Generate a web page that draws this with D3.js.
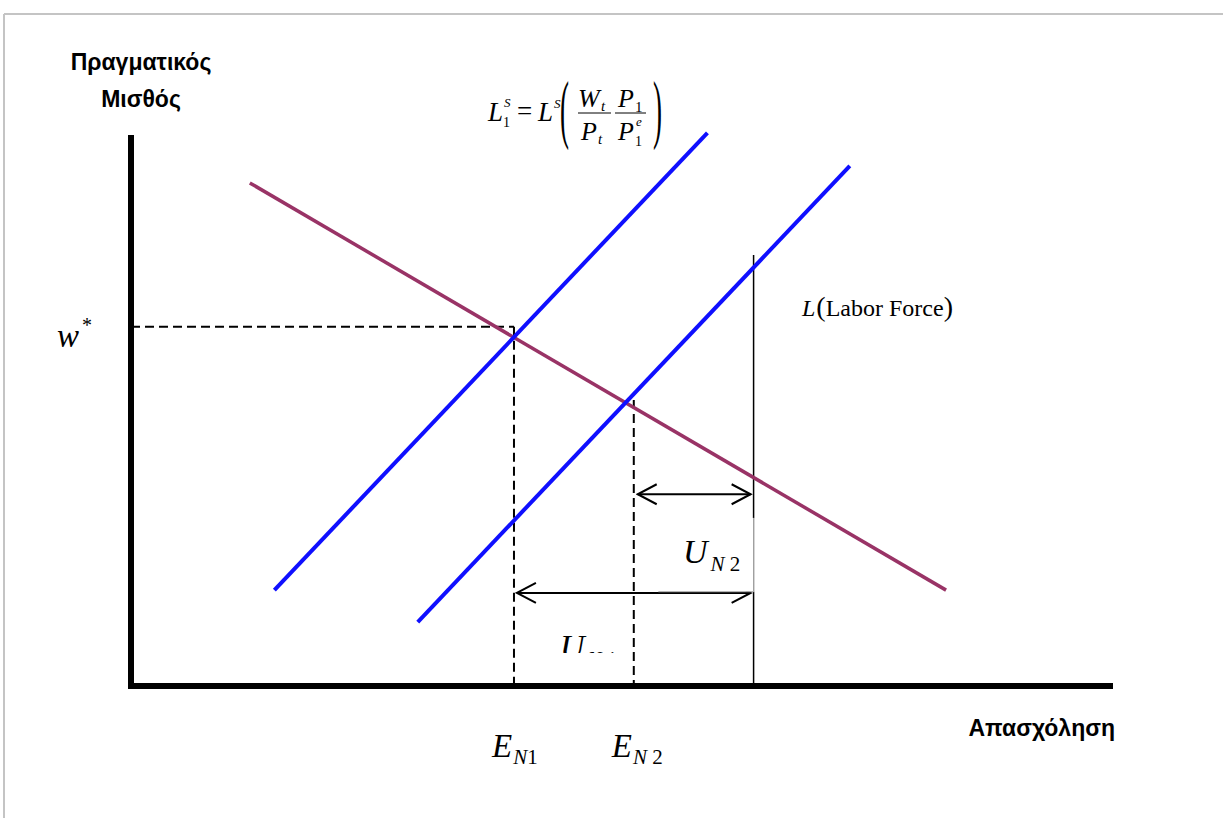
<!DOCTYPE html>
<html>
<head>
<meta charset="utf-8">
<script src="https://cdn.jsdelivr.net/npm/d3@7"></script>
<style>
  body { margin: 0; background: #fff; }
  .serif { font-family: "Liberation Serif", "Times New Roman", serif; }
  .sans { font-family: "Liberation Sans", Arial, sans-serif; font-weight: bold; }
</style>
</head>
<body>
<div id="chart"></div>
<script>
// data, in chart units (0-100 on both axes)
const demandCurve = [[12.1, 91.3], [83.0, 17.4]];
const supplyCurve1 = [[14.6, 17.4], [58.7, 100.4]];
const supplyCurve2 = [[29.2, 11.6], [73.2, 94.4]];
const laborForce = { x: 63.4, top: 78.2 };
const wageStar = 65.2;
const employment = [
  { name: "N1", sub: "1", x: 39.0, top: 65.2 },
  { name: "N2", sub: " 2", x: 51.2, top: 51.9 }
];
const unemployment = [
  { name: "N2", y: 34.8, from: 51.6, to: 63.1 },
  { name: "N1", y: 16.9, from: 39.3, to: 63.1 }
];
const labelBox = { x0: 53.7, x1: 63.5, y0: 17.1, y1: 30.5 };

//size
const width = 1223;
const height = 818;

//scales
const x = d3.scaleLinear().domain([0, 100]).range([131, 1113]);
const y = d3.scaleLinear().domain([0, 100]).range([686, 135]);

const svg = d3.select("#chart")
  .append("svg")
  .attr("width", width)
  .attr("height", height);

// frame (top and left edges only)
svg.append("line").attr("x1", 4).attr("y1", 14).attr("x2", width).attr("y2", 14)
  .attr("stroke", "#c4c4c4").attr("stroke-width", 2);
svg.append("line").attr("x1", 4).attr("y1", 14).attr("x2", 4).attr("y2", height)
  .attr("stroke", "#c4c4c4").attr("stroke-width", 2);

// arrow marker
const defs = svg.append("defs");
defs.append("marker")
  .attr("id", "head")
  .attr("viewBox", "0 -12 22 24")
  .attr("refX", 20).attr("refY", 0)
  .attr("markerWidth", 22).attr("markerHeight", 24)
  .attr("markerUnits", "userSpaceOnUse")
  .attr("orient", "auto-start-reverse")
  .append("path")
  .attr("d", "M1,-10L20,0L1,10")
  .attr("fill", "none")
  .attr("stroke", "#000")
  .attr("stroke-width", 2);

defs.append("clipPath").attr("id", "clipU1")
  .append("rect").attr("x", 0).attr("y", 0).attr("width", width).attr("height", 653);

const line = d3.line().x(d => x(d[0])).y(d => y(d[1]));

// dashed guides
svg.append("line")
  .attr("x1", x(0)).attr("x2", x(employment[0].x))
  .attr("y1", y(wageStar)).attr("y2", y(wageStar))
  .attr("stroke", "#000").attr("stroke-width", 2).attr("stroke-dasharray", "9,5");
svg.selectAll(".eguide")
  .data(employment)
  .join("line")
  .attr("class", "eguide")
  .attr("x1", d => x(d.x)).attr("x2", d => x(d.x))
  .attr("y1", d => y(d.top)).attr("y2", y(0))
  .attr("stroke", "#000").attr("stroke-width", 2).attr("stroke-dasharray", "9,5");

// labor force
svg.append("line")
  .attr("x1", x(laborForce.x)).attr("x2", x(laborForce.x))
  .attr("y1", y(laborForce.top)).attr("y2", y(0))
  .attr("stroke", "#000").attr("stroke-width", 1.5);

// unemployment arrows
svg.selectAll(".uarrow")
  .data(unemployment)
  .join("line")
  .attr("class", "uarrow")
  .attr("x1", d => x(d.from)).attr("x2", d => x(d.to))
  .attr("y1", d => y(d.y)).attr("y2", d => y(d.y))
  .attr("stroke", "#000").attr("stroke-width", 2)
  .attr("marker-start", "url(#head)").attr("marker-end", "url(#head)");

// curves
svg.append("path").attr("d", line(demandCurve))
  .attr("stroke", "#993366").attr("stroke-width", 3.5).attr("fill", "none");
[supplyCurve1, supplyCurve2].forEach(s => {
  svg.append("path").attr("d", line(s))
    .attr("stroke", "#0f0fff").attr("stroke-width", 4).attr("fill", "none");
});

// white label box over U_N2
svg.append("rect")
  .attr("x", x(labelBox.x0)).attr("y", y(labelBox.y1))
  .attr("width", x(labelBox.x1) - x(labelBox.x0))
  .attr("height", y(labelBox.y0) - y(labelBox.y1))
  .attr("fill", "#fff");
svg.append("path")
  .attr("d", `M${x(labelBox.x1) - 1},${y(labelBox.y1)}V${y(labelBox.y0)}H${x(labelBox.x0)}`)
  .attr("fill", "none").attr("stroke", "#9a9a9a").attr("stroke-width", 1);

// axes
svg.append("line")
  .attr("x1", x(0)).attr("x2", x(0)).attr("y1", y(100)).attr("y2", y(0) + 3)
  .attr("stroke", "#000").attr("stroke-width", 6);
svg.append("line")
  .attr("x1", x(0) - 3).attr("x2", x(100)).attr("y1", y(0)).attr("y2", y(0))
  .attr("stroke", "#000").attr("stroke-width", 6);

// axis titles
svg.append("text").attr("class", "sans").attr("x", 141).attr("y", 70)
  .attr("text-anchor", "middle").attr("font-size", 23).text("Πραγματικός");
svg.append("text").attr("class", "sans").attr("x", 141).attr("y", 107)
  .attr("text-anchor", "middle").attr("font-size", 23).text("Μισθός");
svg.append("text").attr("class", "sans").attr("x", 1115).attr("y", 736)
  .attr("text-anchor", "end").attr("font-size", 23).text("Απασχόληση");

// w*
const wl = svg.append("text").attr("class", "serif").attr("x", 57).attr("y", y(wageStar) + 20)
  .attr("font-size", 33);
wl.append("tspan").attr("font-style", "italic").text("w");
wl.append("tspan").attr("font-size", 20).attr("dy", -15).attr("dx", 3).text("*");

// E labels
svg.selectAll(".elabel")
  .data(employment)
  .join("text")
  .attr("class", "serif elabel")
  .attr("x", d => x(d.x) - 22)
  .attr("y", 757)
  .attr("font-size", 33)
  .attr("font-style", "italic")
  .call(t => {
    t.append("tspan").text("E");
    t.append("tspan").attr("font-size", 21).attr("dy", 7).attr("dx", 1)
      .text("N")
      .append("tspan").attr("font-style", "normal").text(d => d.sub);
  });

// U labels
const u2 = svg.append("text").attr("class", "serif").attr("x", 683).attr("y", 563)
  .attr("font-size", 34).attr("font-style", "italic");
u2.append("tspan").text("U");
u2.append("tspan").attr("font-size", 21).attr("dy", 8).attr("dx", 3).text("N")
  .append("tspan").attr("font-style", "normal").text(" 2");

const u1 = svg.append("text").attr("class", "serif").attr("x", 560).attr("y", 658)
  .attr("clip-path", "url(#clipU1)")
  .attr("font-size", 34).attr("font-style", "italic");
u1.append("tspan").text("U");
u1.append("tspan").attr("font-size", 21).attr("dy", 8).attr("dx", 3).text("N")
  .append("tspan").attr("font-style", "normal").text(" 1");

// Labor force label
const lf = svg.append("text").attr("class", "serif").attr("x", 802).attr("y", 316).attr("font-size", 24);
lf.append("tspan").attr("font-style", "italic").text("L");
lf.append("tspan").attr("font-size", 28).attr("dx", 1).text("(");
lf.append("tspan").text("Labor Force");
lf.append("tspan").attr("font-size", 28).text(")");

// supply formula
const f = svg.append("g").attr("class", "serif").attr("transform", "translate(488,121)");
function ital(g, s, px, py, size) {
  return g.append("text").attr("x", px).attr("y", py).attr("font-size", size)
    .attr("font-style", "italic").text(s);
}
function up(g, s, px, py, size) {
  return g.append("text").attr("x", px).attr("y", py).attr("font-size", size).text(s);
}
ital(f, "L", 0, 0, 27);
ital(f, "S", 16, -14, 13);
up(f, "1", 15, 6, 14);
up(f, "=", 29, -1, 27);
ital(f, "L", 50, 0, 27);
ital(f, "S", 66, -13, 13);
f.append("text").attr("transform", "translate(72,13) scale(1,2.8)").attr("font-size", 27).text("(");
ital(f, "W", 90, -14, 26);
ital(f, "t", 113, -10, 15);
f.append("line").attr("x1", 90).attr("x2", 123).attr("y1", -8).attr("y2", -8).attr("stroke", "#000").attr("stroke-width", 1);
ital(f, "P", 93, 19, 26);
ital(f, "t", 110, 23, 15);
ital(f, "P", 130, -14, 26);
up(f, "1", 147, -9, 15);
f.append("line").attr("x1", 127).attr("x2", 158).attr("y1", -8).attr("y2", -8).attr("stroke", "#000").attr("stroke-width", 1);
ital(f, "P", 130, 19, 26);
up(f, "1", 147, 25, 14);
ital(f, "e", 148, 5, 13);
f.append("text").attr("transform", "translate(165,13) scale(1,2.8)").attr("font-size", 27).text(")");
</script>
</body>
</html>
